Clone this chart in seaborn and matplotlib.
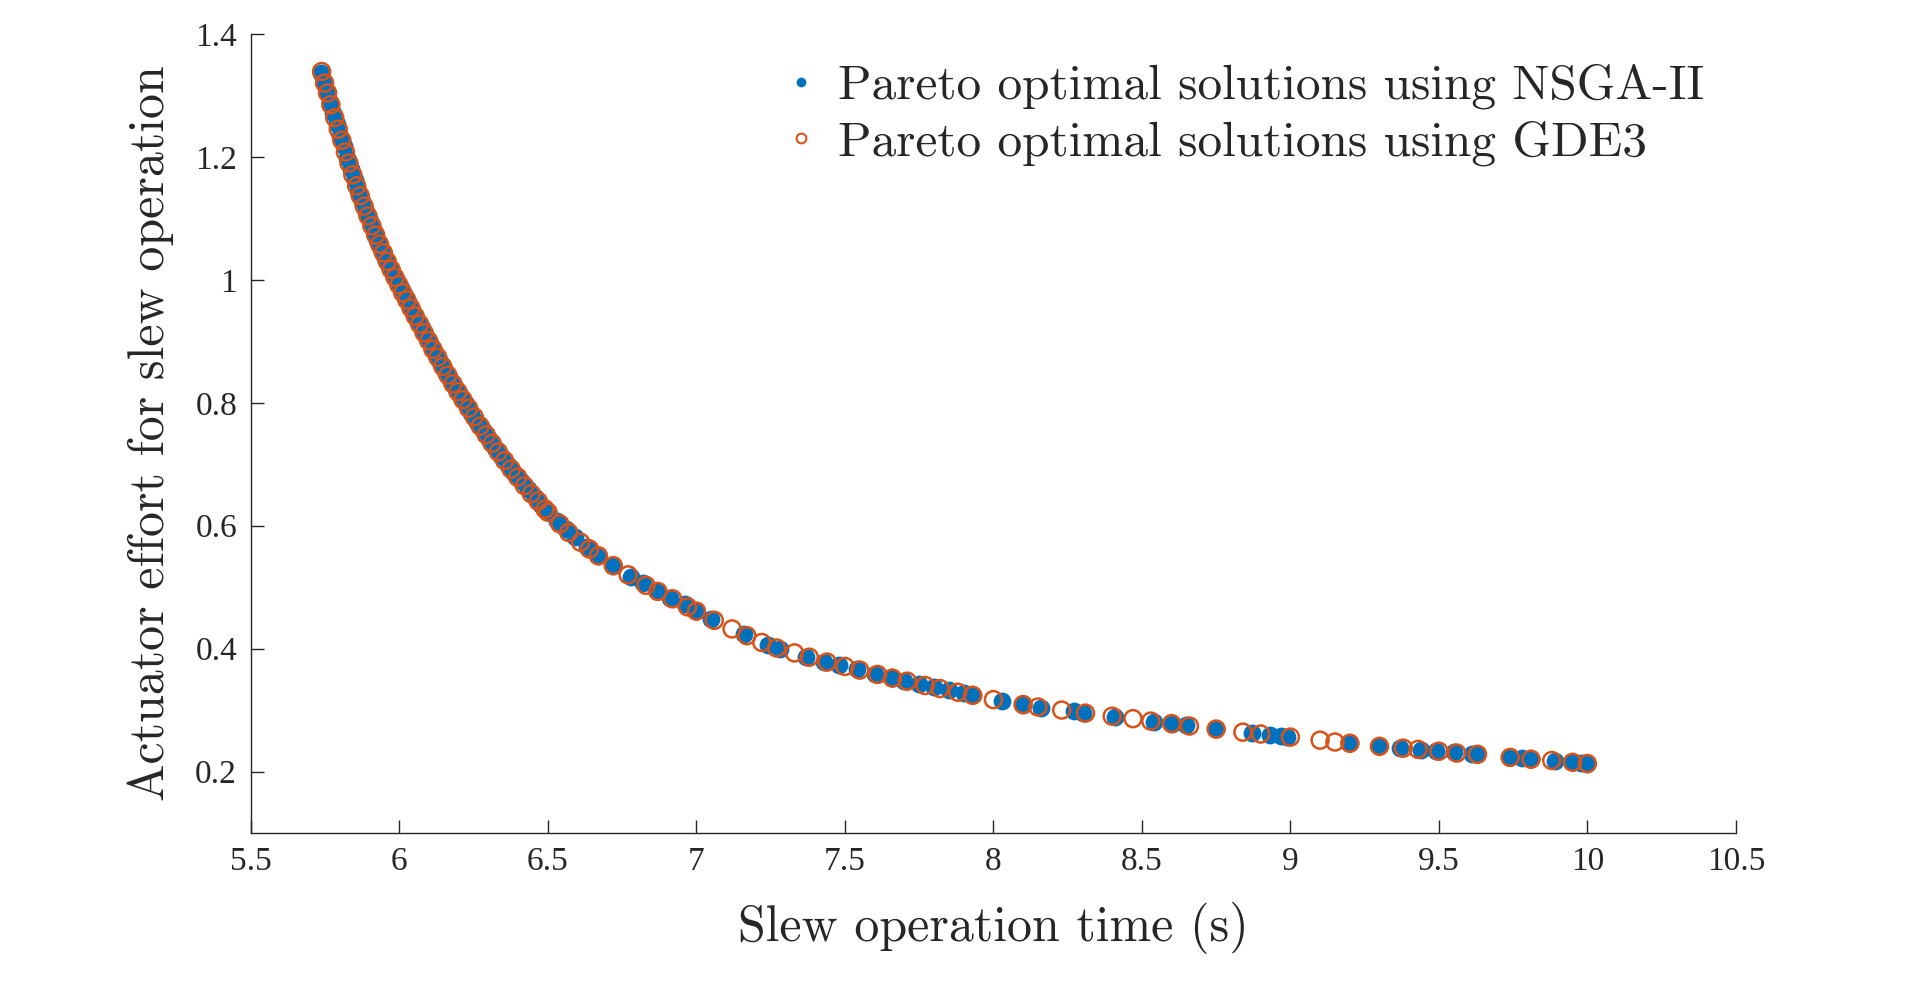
import pandas as pd
import matplotlib
matplotlib.use("Agg")
import matplotlib.pyplot as plt
from matplotlib.lines import Line2D
import seaborn as sns

# valores (frente de Pareto)
nsga_x = [5.737, 5.745, 5.755, 5.766, 5.777, 5.789, 5.801, 5.812, 5.824, 5.837,
          5.850, 5.862, 5.875, 5.888, 5.900, 5.913, 5.926, 5.939, 5.952, 5.965,
          5.978, 5.991, 6.004, 6.018, 6.032, 6.046, 6.060, 6.075, 6.090, 6.105,
          6.120, 6.137, 6.154, 6.171, 6.188, 6.205, 6.223, 6.242, 6.262, 6.282,
          6.302, 6.322, 6.343, 6.365, 6.387, 6.410, 6.432, 6.455, 6.478, 6.500,
          6.53, 6.56, 6.59, 6.63, 6.67, 6.72, 6.78, 6.82, 6.87, 6.91, 6.96, 7.00, 7.05,
          7.16, 7.24, 7.28, 7.37, 7.43, 7.48, 7.54, 7.60, 7.66, 7.70, 7.75, 7.80, 7.85,
          7.90, 7.93, 8.03, 8.10, 8.16, 8.27, 8.30, 8.41, 8.54, 8.60, 8.65, 8.75, 8.87,
          8.93, 8.97, 8.99, 9.20, 9.30, 9.37, 9.44, 9.49, 9.55, 9.61, 9.63, 9.74, 9.78,
          9.81, 9.89, 9.95, 9.98, 10.00]
nsga_y = [1.337, 1.324, 1.308, 1.290, 1.272, 1.253, 1.234, 1.217, 1.199, 1.180,
          1.162, 1.145, 1.128, 1.111, 1.096, 1.080, 1.065, 1.050, 1.036, 1.023,
          1.010, 0.998, 0.986, 0.973, 0.960, 0.947, 0.935, 0.921, 0.908, 0.894,
          0.881, 0.867, 0.852, 0.838, 0.825, 0.812, 0.798, 0.784, 0.769, 0.755,
          0.741, 0.727, 0.713, 0.699, 0.686, 0.672, 0.659, 0.646, 0.634, 0.622,
          0.607, 0.594, 0.581, 0.566, 0.551, 0.535, 0.517, 0.506, 0.493, 0.483, 0.473, 0.461, 0.448,
          0.423, 0.406, 0.399, 0.386, 0.379, 0.373, 0.366, 0.359, 0.352, 0.348, 0.342, 0.337, 0.332,
          0.327, 0.324, 0.315, 0.309, 0.304, 0.298, 0.296, 0.289, 0.281, 0.278, 0.275, 0.269, 0.262,
          0.259, 0.257, 0.256, 0.246, 0.241, 0.238, 0.235, 0.233, 0.231, 0.229, 0.228, 0.223, 0.222,
          0.221, 0.217, 0.215, 0.214, 0.213]

gde3_x = [5.738, 5.748, 5.758, 5.769, 5.782, 5.794, 5.806, 5.818, 5.830, 5.843,
          5.856, 5.868, 5.881, 5.894, 5.907, 5.920, 5.933, 5.946, 5.959, 5.972,
          5.985, 5.998, 6.011, 6.025, 6.039, 6.053, 6.068, 6.083, 6.098, 6.113,
          6.129, 6.146, 6.163, 6.180, 6.197, 6.214, 6.233, 6.252, 6.272, 6.292,
          6.312, 6.333, 6.354, 6.376, 6.398, 6.421, 6.444, 6.467, 6.490,
          6.50, 6.54, 6.57, 6.61, 6.64, 6.67, 6.72, 6.77, 6.83, 6.87, 6.92, 6.97,
          7.00, 7.06, 7.12, 7.17, 7.22, 7.27, 7.33, 7.38, 7.44, 7.50, 7.55, 7.61, 7.66,
          7.71, 7.77, 7.82, 7.88, 7.93, 8.00, 8.10, 8.15, 8.23, 8.31, 8.40, 8.47, 8.53,
          8.60, 8.66, 8.75, 8.84, 8.90, 9.00, 9.10, 9.15, 9.20, 9.30, 9.38, 9.43, 9.50,
          9.56, 9.63, 9.74, 9.81, 9.88, 9.95, 10.00]
gde3_y = [1.339, 1.320, 1.304, 1.285, 1.264, 1.245, 1.227, 1.208, 1.190, 1.171,
          1.153, 1.137, 1.120, 1.104, 1.088, 1.073, 1.058, 1.044, 1.030, 1.017,
          1.004, 0.992, 0.979, 0.967, 0.954, 0.941, 0.928, 0.914, 0.901, 0.887,
          0.874, 0.859, 0.845, 0.831, 0.818, 0.805, 0.791, 0.777, 0.762, 0.748,
          0.734, 0.720, 0.706, 0.692, 0.679, 0.665, 0.652, 0.640, 0.627,
          0.622, 0.603, 0.589, 0.573, 0.562, 0.551, 0.535, 0.520, 0.503, 0.493, 0.481, 0.468,
          0.461, 0.446, 0.432, 0.421, 0.410, 0.401, 0.393, 0.386, 0.378, 0.371, 0.365, 0.358, 0.352,
          0.347, 0.340, 0.335, 0.329, 0.324, 0.317, 0.309, 0.305, 0.300, 0.295, 0.290, 0.286, 0.282,
          0.278, 0.274, 0.269, 0.264, 0.261, 0.256, 0.251, 0.248, 0.246, 0.241, 0.238, 0.236, 0.233,
          0.230, 0.228, 0.223, 0.220, 0.218, 0.215, 0.213]

x_ticks = [5.5, 6, 6.5, 7, 7.5, 8, 8.5, 9, 9.5, 10, 10.5]
x_tick_labels = ["5.5", "6", "6.5", "7", "7.5", "8", "8.5", "9", "9.5", "10", "10.5"]
y_ticks = [0.2, 0.4, 0.6, 0.8, 1.0, 1.2, 1.4]
y_tick_labels = ["0.2", "0.4", "0.6", "0.8", "1", "1.2", "1.4"]

label_nsga = "Pareto optimal solutions using NSGA-II"
label_gde3 = "Pareto optimal solutions using GDE3"

df_nsga = pd.DataFrame({"tiempo": nsga_x, "esfuerzo": nsga_y})
df_gde3 = pd.DataFrame({"tiempo": gde3_x, "esfuerzo": gde3_y})

azul = "#0072BD"
naranja = "#D95319"
gris = "#262626"

sns.set_style("ticks")

fig = plt.figure(figsize=(19.2, 9.86), dpi=100)
ax = fig.add_axes([0.1307, 0.1552, 0.7734, 0.8103])

sns.scatterplot(data=df_nsga, x="tiempo", y="esfuerzo", ax=ax, color=azul,
                s=165, linewidth=0, marker="o", zorder=2)
sns.scatterplot(data=df_gde3, x="tiempo", y="esfuerzo", ax=ax, facecolor="none",
                edgecolor=naranja, s=150, linewidth=1.8, marker="o", zorder=3)

ax.set_xlim(5.5, 10.5)
ax.set_ylim(0.1, 1.4)
ax.set_xticks(x_ticks)
ax.set_xticklabels(x_tick_labels, fontfamily="Liberation Serif", fontsize=24, color=gris)
ax.set_yticks(y_ticks)
ax.set_yticklabels(y_tick_labels, fontfamily="Liberation Serif", fontsize=24, color=gris)
ax.tick_params(direction="in", length=9.5, width=1, colors=gris, pad=10)

for lado in ["top", "right"]:
    ax.spines[lado].set_visible(False)
for lado in ["left", "bottom"]:
    ax.spines[lado].set_color(gris)
    ax.spines[lado].set_linewidth(1)

ax.set_xlabel("Slew operation time (s)", fontfamily="cmr10", fontsize=36, color=gris, labelpad=18)
ax.set_ylabel("Actuator effort for slew operation", fontfamily="cmr10", fontsize=36, color=gris, labelpad=15)

handles = [
    Line2D([], [], ls="", marker="o", color=azul, markersize=6),
    Line2D([], [], ls="", marker="o", mfc="none", mec=naranja, mew=1.5, markersize=7),
]
ax.legend(handles, [label_nsga, label_gde3], loc="upper left", bbox_to_anchor=(0.357, 0.9625),
          frameon=False, borderpad=0, borderaxespad=0, handlelength=0.8, handletextpad=0.35,
          labelspacing=0.22, prop={"family": "cmr10", "size": 35.5}, labelcolor=gris)

fig.savefig("out.png", dpi=100)
